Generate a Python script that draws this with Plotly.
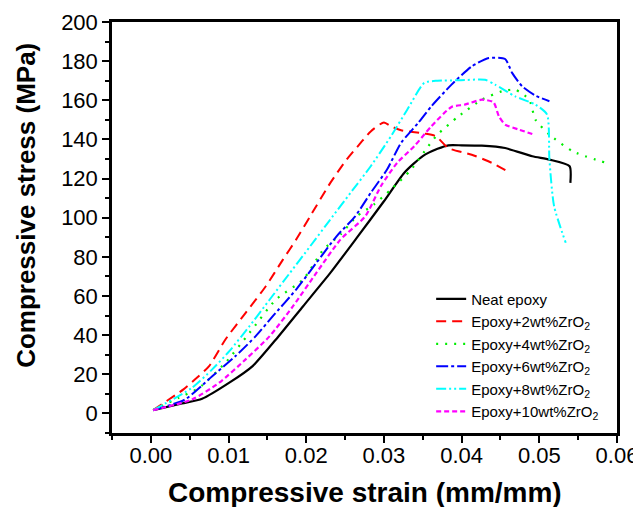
import plotly.graph_objects as go

# strain (mm/mm) / stress (MPa)
neat_x = [0.0003, 0.0040, 0.0066, 0.0101, 0.0131, 0.0161, 0.0196, 0.0231, 0.0265, 0.0300,
          0.0326, 0.0350, 0.0369, 0.0383, 0.0400, 0.0426, 0.0456, 0.0491, 0.0513, 0.0539, 0.0540]
neat_y = [1.7, 5.1, 7.5, 15.7, 24.2, 37.8, 54.8, 71.8, 89.7, 108.4,
          122.9, 131.5, 135.2, 137.0, 137.0, 136.8, 135.6, 131.4, 129.7, 126.3, 117.8]

zr2_x = [0.0003, 0.0042, 0.0057, 0.0075, 0.0096, 0.0122, 0.0148, 0.0170, 0.0187, 0.0205,
         0.0231, 0.0252, 0.0270, 0.0283, 0.0300, 0.0309, 0.0322, 0.0352, 0.0367, 0.0383,
         0.0413, 0.0439, 0.0461]
zr2_y = [1.7, 12.3, 17.4, 24.2, 37.8, 51.4, 65.0, 78.6, 88.8, 100.7,
         117.8, 129.7, 138.2, 144.1, 148.7, 146.7, 144.7, 143.0, 141.6, 135.6,
         132.2, 128.0, 123.2]

zr4_x = [0.0003, 0.0036, 0.0062, 0.0096, 0.0127, 0.0161, 0.0196, 0.0222, 0.0244, 0.0265,
         0.0287, 0.0309, 0.0335, 0.0357, 0.0369, 0.0396, 0.0426, 0.0452, 0.0469, 0.0487,
         0.0495, 0.0513, 0.0543, 0.0586]
zr4_y = [1.7, 8.0, 13.1, 25.9, 41.2, 58.2, 68.4, 83.7, 91.4, 100.7,
         106.7, 114.4, 124.6, 136.5, 142.5, 151.8, 160.3, 164.6, 165.4, 160.3,
         150.1, 142.5, 133.9, 128.0]

zr6_x = [0.0003, 0.0044, 0.0079, 0.0109, 0.0135, 0.0157, 0.0187, 0.0213, 0.0239, 0.0263,
         0.0283, 0.0304, 0.0322, 0.0344, 0.0361, 0.0387, 0.0413, 0.0435, 0.0456, 0.0465,
         0.0478, 0.0495, 0.0513]
zr6_y = [1.7, 7.1, 19.0, 29.3, 39.5, 49.7, 63.3, 76.9, 90.5, 100.7,
         112.7, 124.6, 138.2, 148.4, 156.9, 168.0, 177.3, 181.6, 181.1, 174.0,
         167.1, 162.4, 159.5]

zr8_x = [0.0003, 0.0053, 0.0079, 0.0101, 0.0127, 0.0153, 0.0179, 0.0205, 0.0231, 0.0257,
         0.0283, 0.0309, 0.0330, 0.0352, 0.0369, 0.0396, 0.0430, 0.0443, 0.0469, 0.0495,
         0.0510, 0.0513, 0.0519, 0.0534]
zr8_y = [1.7, 13.1, 22.5, 31.8, 44.6, 58.2, 71.8, 85.4, 99.1, 112.7,
         126.3, 141.6, 155.2, 168.9, 170.0, 170.2, 170.5, 168.0, 162.0, 157.8,
         152.7, 129.7, 105.9, 87.2]

zr10_x = [0.0003, 0.0053, 0.0088, 0.0122, 0.0153, 0.0183, 0.0213, 0.0244, 0.0276, 0.0296,
          0.0317, 0.0339, 0.0361, 0.0387, 0.0404, 0.0426, 0.0441, 0.0448, 0.0456, 0.0474,
          0.0493]
zr10_y = [1.7, 7.1, 15.7, 27.6, 39.5, 54.8, 71.8, 88.8, 100.7, 116.1,
          128.0, 136.5, 146.7, 156.6, 157.8, 160.3, 159.0, 151.8, 147.6, 145.0,
          142.5]

series = [
    ("Neat epoxy", neat_x, neat_y, "black", "solid", 2.2),
    ("Epoxy+2wt%ZrO<sub>2</sub>", zr2_x, zr2_y, "#FF0000", "10px,6px", 2),
    ("Epoxy+4wt%ZrO<sub>2</sub>", zr4_x, zr4_y, "#00EE00", "2px,7px", 2.2),
    ("Epoxy+6wt%ZrO<sub>2</sub>", zr6_x, zr6_y, "#0000FF", "12px,3px,3px,3px", 2),
    ("Epoxy+8wt%ZrO<sub>2</sub>", zr8_x, zr8_y, "#00FFFF", "10px,3px,2px,3px,2px,3px", 2),
    ("Epoxy+10wt%ZrO<sub>2</sub>", zr10_x, zr10_y, "#FF00FF", "5px,3px", 2.2),
]

fig = go.Figure()
for name, xs, ys, col, dash, w in series:
    fig.add_trace(go.Scatter(x=xs, y=ys, mode="lines", name=name,
                             line=dict(color=col, dash=dash, width=w,
                                       shape="spline", smoothing=0.6)))

# page body adds an 8px offset, so the figure is sized to fit the window
font = "Arial, Liberation Sans, sans-serif"
fig.update_layout(
    width=633, height=499,
    margin=dict(l=104, r=24, t=14, b=74, autoexpand=False),
    paper_bgcolor="white", plot_bgcolor="white",
    font=dict(family=font, color="black"),
    showlegend=True,
    legend=dict(x=0.632, y=0.366, xanchor="left", yanchor="top",
                bgcolor="rgba(0,0,0,0)", font=dict(size=15),
                tracegroupgap=0),
    annotations=[
        dict(text="<b>Compressive stress (MPa)</b>", textangle=-90,
             xref="paper", yref="paper", x=-0.17, y=0.553,
             xanchor="center", yanchor="middle", showarrow=False,
             font=dict(size=26)),
        dict(text="<b>Compressive strain (mm/mm)</b>",
             xref="paper", yref="paper", x=0.5, y=-0.145,
             xanchor="center", yanchor="middle", showarrow=False,
             font=dict(size=28)),
    ],
)
fig.update_xaxes(
    range=[-0.005, 0.06], dtick=0.01, tick0=0, tickformat=".2f", automargin=False,
    showline=True, mirror=True, linecolor="black", linewidth=2.5,
    ticks="outside", ticklen=7, tickwidth=2, tickcolor="black", ticklabelstandoff=-6,
    minor=dict(dtick=0.005, ticks="outside", ticklen=4, tickwidth=1.5, tickcolor="black"),
    showgrid=False, zeroline=False, tickfont=dict(size=22),
)
fig.update_yaxes(
    range=[-10, 200], dtick=20, tick0=0, automargin=False,
    showline=True, mirror=True, linecolor="black", linewidth=2.5,
    ticks="outside", ticklen=7, tickwidth=2, tickcolor="black",
    minor=dict(dtick=10, ticks="outside", ticklen=4, tickwidth=1.5, tickcolor="black"),
    showgrid=False, zeroline=False, tickfont=dict(size=22),
)

fig.write_html("out.html")
